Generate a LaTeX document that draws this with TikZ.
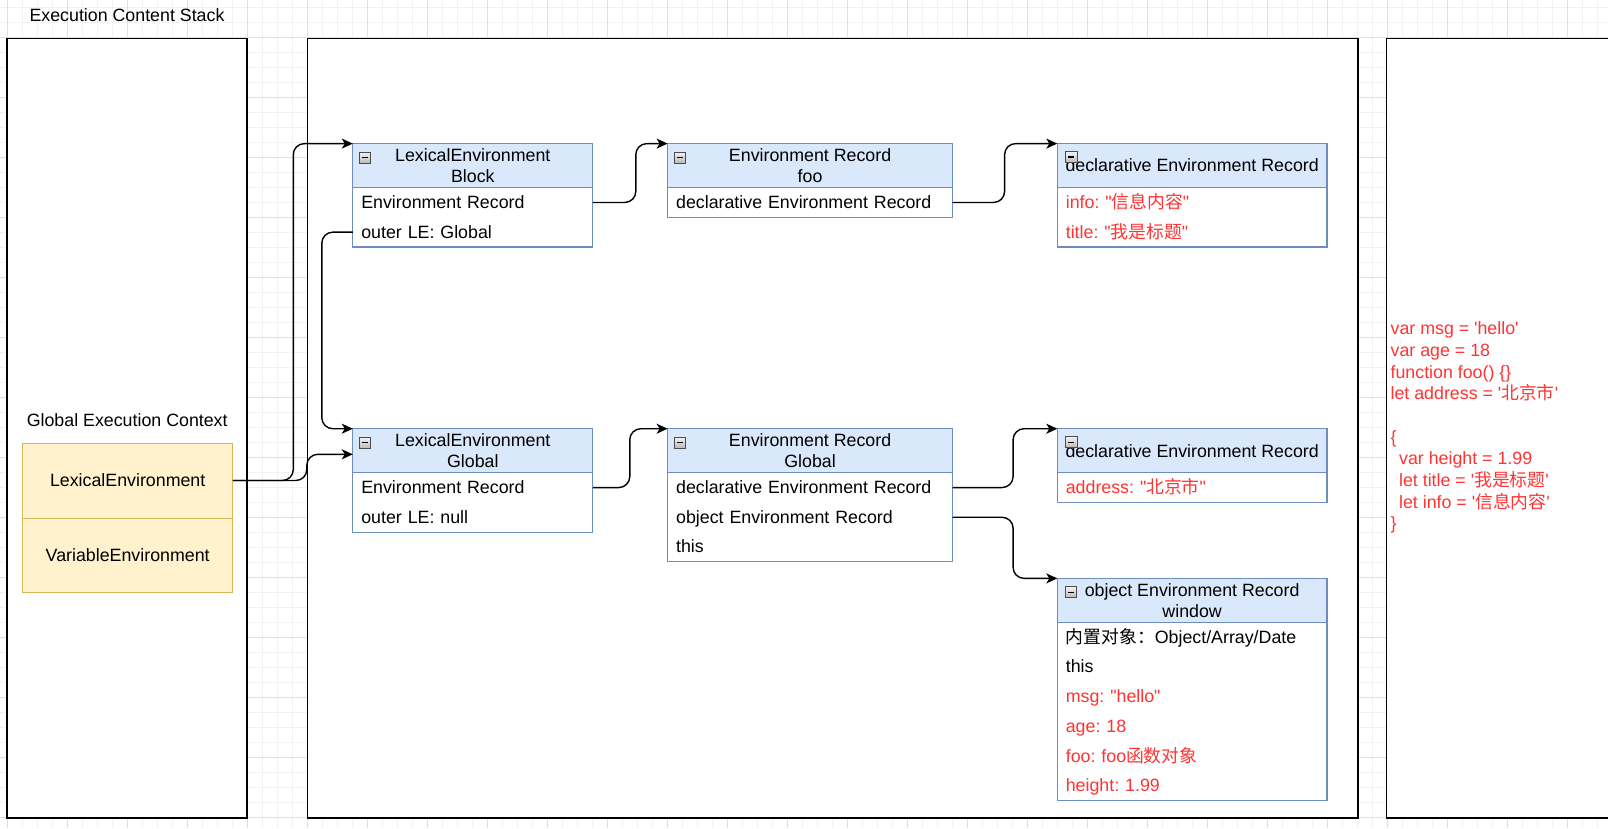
\documentclass[tikz,border=0pt]{standalone}
\usepackage{fontspec}
\setmainfont{Liberation Sans}
\newfontfamily\cjkfont{Noto Sans CJK SC}
\newcommand{\zhtxt}[1]{{\cjkfont #1}}
\newcommand{\sqt}{\textquotesingle}
\newcommand{\dqt}{\textquotedbl}
\frenchspacing
\usetikzlibrary{arrows.meta,calc}
\definecolor{hfill}{HTML}{DAE8FC}
\definecolor{hline}{HTML}{6C8EBF}
\definecolor{yfill}{HTML}{FFF2CC}
\definecolor{yline}{HTML}{D6B656}
\definecolor{redtxt}{HTML}{FF3333}
\definecolor{gridminor}{HTML}{F2F2F2}
\definecolor{gridmajor}{HTML}{E0E0E0}
\begin{document}
\begin{tikzpicture}[x=1pt,y=-1pt,
  every node/.style={font=\fontsize{17.8}{20.7}\selectfont, inner sep=0pt, outer sep=0pt},
  container/.style={draw=black, line width=1.6pt, fill=white},
  hdr/.style={draw=hline, line width=1.2pt, fill=hfill, anchor=north west, minimum height=44pt, align=center},
  row/.style={anchor=north west, minimum height=29.7pt, text height=14pt, text depth=2pt, inner xsep=8.5pt, align=left},
  redrow/.style={row, text=redtxt},
  boxline/.style={draw=hline, line width=1.2pt},
  minus/.style={draw=gray!60!black, line width=0.6pt, top color=gray!10, bottom color=gray!55, minimum width=11.5pt, minimum height=11pt, inner sep=0pt},
  conn/.style={draw=black, line width=1.4pt, rounded corners=11pt, -{Stealth[length=11pt,width=10pt,inset=3pt]}},
  codeline/.style={anchor=west, text=redtxt, text height=13pt, text depth=3.5pt},
  yel/.style={draw=yline, fill=yfill, line width=1pt, minimum width=210.2pt, anchor=north west}
]
\useasboundingbox (0,0) rectangle (1608,828);
\begin{scope}
\clip (0,0) rectangle (1608,828);
\fill[white] (0,0) rectangle (1608,828);
% grid
\foreach \gx in {7,22,...,1605} \draw[gridminor, line width=0.8pt] (\gx,0) -- (\gx,828);
\foreach \gy in {7.3,22.3,...,828} \draw[gridminor, line width=0.8pt] (0,\gy) -- (1608,\gy);
\foreach \gx in {7,67,...,1605} \draw[gridmajor, line width=0.8pt] (\gx,0) -- (\gx,828);
\foreach \gy in {37.3,97.3,...,828} \draw[gridmajor, line width=0.8pt] (0,\gy) -- (1608,\gy);

% containers
\draw[container] (7.2,38.5) rectangle (247.1,818);
\draw[container] (307.6,38.5) rectangle (1357.8,818);
\draw[container] (1386.5,38.5) rectangle (1640,818);

\node (stackT) at (127,15) {Execution Content Stack};
\node (gecT) at (127.2,420) {Global Execution Context};

% yellow
\node[yel, minimum height=75pt] (lexE) at (22.6,443) {LexicalEnvironment};
\node[yel, minimum height=74.8pt] (varE) at (lexE.south west) {VariableEnvironment};

% LE Block
\node[hdr, minimum width=240pt] (lebH) at (352.8,143.6) {LexicalEnvironment\\Block};
\node[row, text width=223pt] (lebR1) at (lebH.south west) {Environment Record};
\node[row, text width=223pt] (lebR2) at (lebR1.south west) {outer LE: Global};
\draw[boxline] (lebH.north west) rectangle (lebR2.south east);
\node[minus] (lebM) at ($(lebH.north west)+(12,14)$) {\rule[-0.4pt]{6pt}{1.3pt}};

% ER foo
\node[hdr, minimum width=285pt] (erfH) at (667.6,143.6) {Environment Record\\foo};
\node[row, text width=268pt] (erfR1) at (erfH.south west) {declarative Environment Record};
\draw[boxline] (erfH.north west) rectangle (erfR1.south east);
\node[minus] (erfM) at ($(erfH.north west)+(12,14)$) {\rule[-0.4pt]{6pt}{1.3pt}};

% decl ER 1
\node[hdr, minimum width=269.7pt] (de1H) at (1057.3,143.6) {declarative Environment Record};
\node[redrow, text width=252.7pt] (de1R1) at (de1H.south west) {info: \dqt\zhtxt{信息内容}\dqt};
\node[redrow, text width=252.7pt] (de1R2) at (de1R1.south west) {title: \dqt\zhtxt{我是标题}\dqt};
\draw[boxline] (de1H.north west) rectangle (de1R2.south east);
\node[minus] (de1M) at ($(de1H.north west)+(14,13.5)$) {\rule[-0.4pt]{6pt}{1.3pt}};

% LE Global
\node[hdr, minimum width=240pt] (lgH) at (352.8,428.7) {LexicalEnvironment\\Global};
\node[row, text width=223pt] (lgR1) at (lgH.south west) {Environment Record};
\node[row, text width=223pt] (lgR2) at (lgR1.south west) {outer LE: null};
\draw[boxline] (lgH.north west) rectangle (lgR2.south east);
\node[minus] (lgM) at ($(lgH.north west)+(12,14)$) {\rule[-0.4pt]{6pt}{1.3pt}};

% ER Global
\node[hdr, minimum width=285pt] (ergH) at (667.6,428.7) {Environment Record\\Global};
\node[row, text width=268pt] (ergR1) at (ergH.south west) {declarative Environment Record};
\node[row, text width=268pt] (ergR2) at (ergR1.south west) {object Environment Record};
\node[row, text width=268pt] (ergR3) at (ergR2.south west) {this};
\draw[boxline] (ergH.north west) rectangle (ergR3.south east);
\node[minus] (ergM) at ($(ergH.north west)+(12,14)$) {\rule[-0.4pt]{6pt}{1.3pt}};

% decl ER 2
\node[hdr, minimum width=269.7pt] (de2H) at (1057.3,428.7) {declarative Environment Record};
\node[redrow, text width=252.7pt] (de2R1) at (de2H.south west) {address: \dqt\zhtxt{北京市}\dqt};
\draw[boxline] (de2H.north west) rectangle (de2R1.south east);
\node[minus] (de2M) at ($(de2H.north west)+(14,13.5)$) {\rule[-0.4pt]{6pt}{1.3pt}};

% object ER window
\node[hdr, minimum width=269.7pt] (owH) at (1057.3,578.4) {object Environment Record\\window};
\node[row, text width=252.7pt] (owR1) at (owH.south west) {\zhtxt{内置对象：}Object/Array/Date};
\node[row, text width=252.7pt] (owR2) at (owR1.south west) {this};
\node[redrow, text width=252.7pt] (owR3) at (owR2.south west) {msg: \dqt hello\dqt};
\node[redrow, text width=252.7pt] (owR4) at (owR3.south west) {age: 18};
\node[redrow, text width=252.7pt] (owR5) at (owR4.south west) {foo: foo\zhtxt{函数对象}};
\node[redrow, text width=252.7pt] (owR6) at (owR5.south west) {height: 1.99};
\draw[boxline] (owH.north west) rectangle (owR6.south east);
\node[minus] (owM) at ($(owH.north west)+(13.5,13.8)$) {\rule[-0.4pt]{6pt}{1.3pt}};

% code
\node[codeline] (c1) at (1390.6,330.2) {var msg = \sqt hello\sqt};
\node[codeline] (c2) at (1390.6,351.9) {var age = 18};
\node[codeline] (c3) at (1390.6,373.5) {function foo() \{\}};
\node[codeline] (c4) at (1390.6,395.2) {let address = \sqt\zhtxt{北京市}\sqt};
\node[codeline] (c5) at (1390.6,438.5) {\{};
\node[codeline] (c6) at (1390.6,460.1) {\hspace*{8.5pt}var height = 1.99};
\node[codeline] (c7) at (1390.6,481.8) {\hspace*{8.5pt}let title = \sqt\zhtxt{我是标题}\sqt};
\node[codeline] (c8) at (1390.6,503.4) {\hspace*{8.5pt}let info = \sqt\zhtxt{信息内容}\sqt};
\node[codeline] (c9) at (1390.6,525) {\}};

% connectors
\draw[conn] (lexE.east) -- ++(60.5,0) |- (lebH.north west);
\draw[conn] (lexE.east) -- ++(74,0) |- ($(lgH.north west)+(0,25.6)$);
\draw[conn] (lebR2.west) -- ++(-31,0) |- (lgH.north west);
\draw[conn] (lebR1.east) -- ++(43,0) |- (erfH.north west);
\draw[conn] (erfR1.east) -- ++(52,0) |- (de1H.north west);
\draw[conn] (lgR1.east) -- ++(37,0) |- (ergH.north west);
\draw[conn] (ergR1.east) -- ++(60.5,0) |- (de2H.north west);
\draw[conn] (ergR2.east) -- ++(60.5,0) |- (owH.north west);
\end{scope}
\end{tikzpicture}
\end{document}
